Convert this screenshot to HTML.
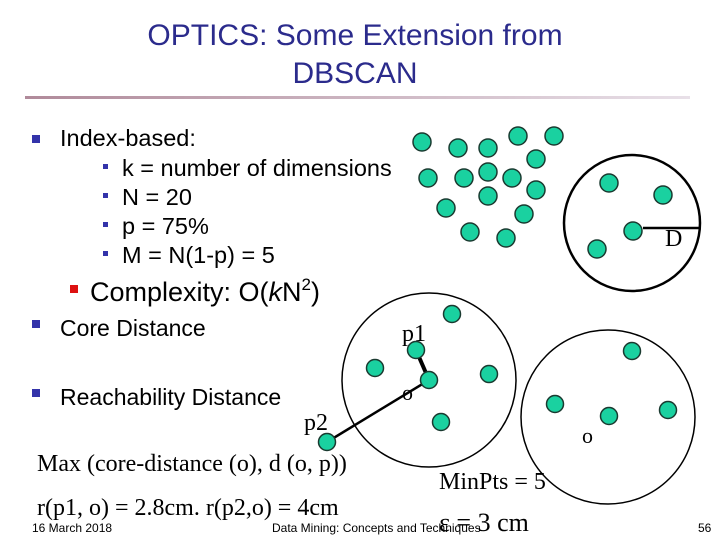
<!DOCTYPE html>
<html><head><meta charset="utf-8"><style>
body{margin:0;background:#fff}
svg{display:block}
.s{font-family:"Liberation Sans",sans-serif}
.r{font-family:"Liberation Serif",serif}
</style></head><body>
<svg width="720" height="540" viewBox="0 0 720 540">
<defs><linearGradient id="g" x1="0" x2="1"><stop offset="0" stop-color="#b08a9a"/><stop offset="1" stop-color="#e8e0e8"/></linearGradient></defs>
<text class="s" x="355" y="45" font-size="30" fill="#2b2b8c" text-anchor="middle">OPTICS: Some Extension from</text>
<text class="s" x="355" y="83" font-size="30" fill="#2b2b8c" text-anchor="middle">DBSCAN</text>
<rect x="25" y="96" width="665" height="3" fill="url(#g)"/>
<g>
<rect x="32" y="135" width="8" height="8" fill="#3333aa"/>
<rect x="103" y="164" width="5" height="5" fill="#3333aa"/>
<rect x="103" y="193" width="5" height="5" fill="#3333aa"/>
<rect x="103" y="222" width="5" height="5" fill="#3333aa"/>
<rect x="103" y="251" width="5" height="5" fill="#3333aa"/>
<rect x="70" y="285" width="8" height="8" fill="#dd1111"/>
<rect x="32" y="320" width="8" height="8" fill="#3333aa"/>
<rect x="32" y="389" width="8" height="8" fill="#3333aa"/>
</g>
<g class="s" fill="#000">
<text x="60" y="146" font-size="23.5">Index-based:</text>
<text x="122" y="176" font-size="23.5">k = number of dimensions</text>
<text x="122" y="205" font-size="23.5">N = 20</text>
<text x="122" y="234" font-size="23.5">p = 75%</text>
<text x="122" y="263" font-size="23.5">M = N(1-p) = 5</text>
<text x="90" y="301" font-size="27">Complexity:  O(<tspan font-style="italic">k</tspan>N<tspan font-size="17" dy="-11">2</tspan><tspan dy="11">)</tspan></text>
<text x="60" y="336" font-size="23">Core Distance</text>
<text x="60" y="405" font-size="23">Reachability Distance</text>
</g>
<g class="r" fill="#000">
<text x="37" y="471" font-size="24">Max (core-distance (o), d (o, p))</text>
<text x="37" y="515" font-size="24">r(p1, o) = 2.8cm.  r(p2,o) = 4cm</text>
</g>
<circle cx="632" cy="223" r="68" fill="none" stroke="#000" stroke-width="2.5"/>
<g fill="none" stroke="#000" stroke-width="1.5">
<circle cx="429" cy="380" r="87"/>
<circle cx="608" cy="417" r="87"/>
</g>
<line x1="643" y1="228" x2="700" y2="228" stroke="#000" stroke-width="2.5"/>
<line x1="327" y1="442" x2="429" y2="380" stroke="#000" stroke-width="2.5"/>
<line x1="416" y1="350" x2="429" y2="380" stroke="#000" stroke-width="4"/>
<g fill="#1ad1a0" stroke="#1a3a30" stroke-width="1.5">
<circle cx="422" cy="142" r="9"/><circle cx="458" cy="148" r="9"/><circle cx="488" cy="148" r="9"/><circle cx="518" cy="136" r="9"/><circle cx="554" cy="136" r="9"/><circle cx="536" cy="159" r="9"/><circle cx="428" cy="178" r="9"/><circle cx="464" cy="178" r="9"/><circle cx="488" cy="172" r="9"/><circle cx="512" cy="178" r="9"/><circle cx="536" cy="190" r="9"/><circle cx="488" cy="196" r="9"/><circle cx="446" cy="208" r="9"/><circle cx="524" cy="214" r="9"/><circle cx="470" cy="232" r="9"/><circle cx="506" cy="238" r="9"/>
<circle cx="609" cy="183" r="9"/><circle cx="663" cy="195" r="9"/><circle cx="633" cy="231" r="9"/><circle cx="597" cy="249" r="9"/>
<circle cx="452" cy="314" r="8.5"/><circle cx="416" cy="350" r="8.5"/><circle cx="375" cy="368" r="8.5"/><circle cx="489" cy="374" r="8.5"/><circle cx="429" cy="380" r="8.5"/><circle cx="441" cy="422" r="8.5"/><circle cx="327" cy="442" r="8.5"/>
<circle cx="632" cy="351" r="8.5"/><circle cx="555" cy="404" r="8.5"/><circle cx="609" cy="416" r="8.5"/><circle cx="668" cy="410" r="8.5"/>
</g>
<g class="r" fill="#000">
<text x="665" y="246" font-size="24">D</text>
<text x="402" y="341" font-size="24">p1</text>
<text x="402" y="400" font-size="22">o</text>
<text x="304" y="430" font-size="24">p2</text>
<text x="582" y="443" font-size="22">o</text>
<text x="439" y="489" font-size="24">MinPts = 5</text>
<text x="439" y="531" font-size="26">ε = 3 cm</text>
</g>
<g class="s" font-size="12" fill="#000">
<text x="32" y="532">16 March 2018</text>
<text x="272" y="532">Data Mining: Concepts and Techniques</text>
<text x="698" y="532">56</text>
</g>
</svg>
</body></html>
